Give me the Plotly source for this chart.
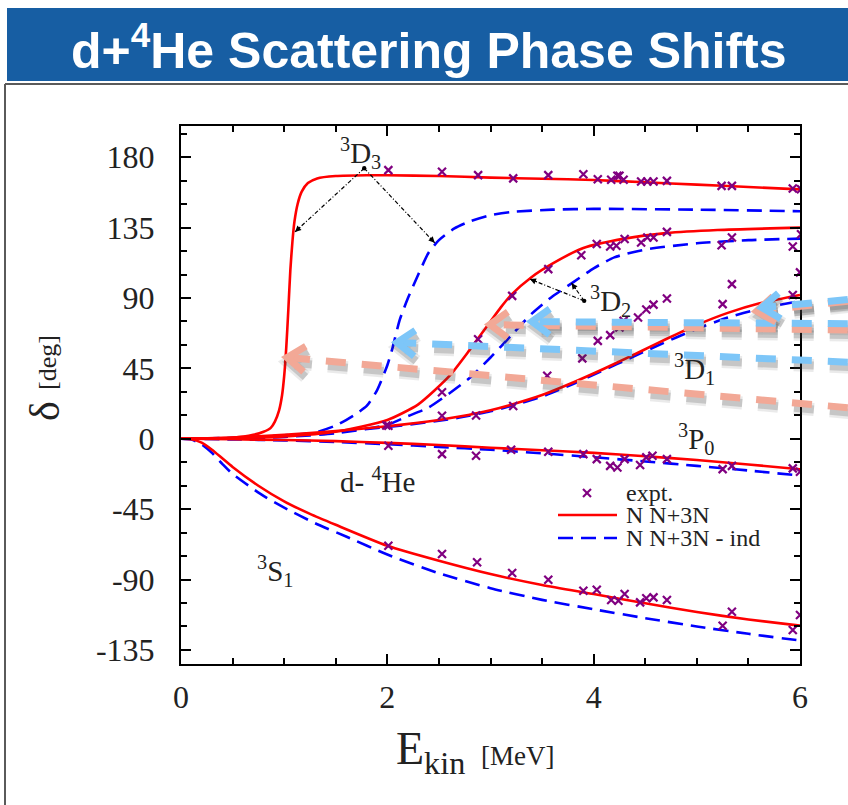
import math
import plotly.graph_objects as go

# ---------------- data: phase shifts (deg) vs E_kin (MeV) ----------------
# NN+3N (solid) and NN+3N-induced (dashed) calculations, one pair per channel
E_3D3_full = [0, 0.3, 0.5, 0.7, 0.8, 0.87, 0.91, 0.95, 0.98, 1.0, 1.02, 1.04, 1.06, 1.08, 1.1,
              1.13, 1.17, 1.23, 1.32, 1.5, 1.8, 2.0, 2.5, 3.0, 3.5, 4.0, 4.5, 5.0, 5.5, 6.0]
d_3D3_full = [0, 0.2, 0.6, 2.5, 4.5, 7, 11, 18, 28, 40, 58, 82, 108, 126, 139,
              150, 158, 163.5, 166.5, 168, 168.5, 168.5, 168, 167, 166.3, 165.5, 164, 162.5, 161, 159.5]
E_3D3_ind = [0, 0.5, 1.0, 1.3, 1.5, 1.6, 1.7, 1.8, 1.9, 2.0, 2.05, 2.12, 2.2, 2.3, 2.4, 2.5,
             2.65, 2.8, 3.0, 3.2, 3.6, 4.0, 5.0, 6.0]
d_3D3_ind = [0, 0.3, 1.5, 4, 8.5, 12, 16, 21, 31, 47, 58, 76, 90, 105, 119, 127,
             134.5, 139, 143, 145, 146.5, 147, 146.5, 145.5]

E_3D2_full = [0, 0.5, 1.0, 1.5, 2.0, 2.3, 2.6, 2.8, 2.9, 3.0, 3.1, 3.2, 3.4, 3.6, 3.9, 4.3, 4.7, 5.2, 6.0]
d_3D2_full = [0, 0.5, 1.5, 4.5, 12, 22, 40, 57, 66, 75, 84, 92, 103.5, 112, 122, 128, 131.5, 133.5, 135]
E_3D2_ind = [0, 0.5, 1.0, 1.5, 2.0, 2.2, 2.4, 2.6, 2.8, 3.0, 3.2, 3.4, 3.6, 3.8, 4.0, 4.2, 4.5, 5.0, 5.5, 6.0]
d_3D2_ind = [0, 0.3, 1.2, 3.5, 9, 14.5, 20, 29, 39, 52, 66, 80, 91, 100, 109, 116, 121, 125, 127, 128]

E_3D1 = [0, 0.5, 1.0, 1.5, 2.0, 2.5, 2.7, 3.0, 3.2, 3.5, 3.8, 4.1, 4.35, 4.6, 4.8, 5.0, 5.3, 5.6, 6.0]
d_3D1_full = [0, 0.8, 2.5, 5, 8, 12, 14.2, 18.3, 21.8, 28, 36, 44.8, 52.5, 60.5, 66.8, 72.8, 80.5, 86.5, 92]
d_3D1_ind = [0, 0.6, 2.2, 4.5, 7.5, 11.5, 13.6, 17.6, 21, 27, 35, 44, 51.5, 59, 64.8, 70.3, 77.5, 83, 88]

E_3P0 = [0, 0.5, 1.0, 1.5, 2.0, 2.5, 3.0, 3.5, 4.0, 4.5, 5.0, 5.5, 6.0]
d_3P0_full = [0, -0.3, -0.8, -1.5, -2.6, -4, -5.7, -7.3, -9, -11.2, -13.6, -16.4, -19.5]
d_3P0_ind = [0, -0.4, -1.0, -2.0, -3.5, -5.2, -7.0, -9.3, -11.8, -14.5, -17.3, -20.3, -23.5]

E_3S1_full = [0, 0.1, 0.2, 0.3, 0.4, 0.5, 0.75, 1.0, 1.25, 1.5, 2.0, 2.5, 3.0, 3.5, 4.0, 4.5, 5.0, 5.5, 6.0]
d_3S1_full = [0, -0.3, -2.5, -7, -12.5, -18, -30, -40, -48, -55, -68.4, -78, -86.5, -93.5, -99.3,
              -105.2, -110.8, -115.5, -119.5]
E_3S1_ind = [0, 0.1, 0.2, 0.3, 0.4, 0.5, 0.8, 1.0, 1.3, 1.6, 2.0, 2.5, 3.0, 3.5, 4.0, 4.5, 5.0, 5.5, 6.0]
d_3S1_ind = [0, -0.5, -3.5, -9, -16, -22.5, -36.5, -44, -54, -62.5, -74, -86, -95.5, -103, -109,
             -114.7, -120, -124.7, -129]

# experimental phase shifts
E_exp_3D3 = [2.01, 2.53, 2.88, 3.22, 3.56, 3.90, 4.04, 4.17, 4.23, 4.25, 4.29, 4.46, 4.52, 4.58, 4.71, 5.24, 5.34, 5.93, 6.01]
d_exp_3D3 = [171.8, 170.7, 168.6, 166.5, 168.6, 169.2, 166.0, 165.6, 168.2, 168.2, 165.6, 164.5, 164.5, 164.5, 164.9, 161.7, 161.7, 160.0, 159.6]
E_exp_3D2 = [1.99, 2.53, 2.88, 3.21, 3.56, 3.88, 4.03, 4.16, 4.22, 4.30, 4.46, 4.52, 4.58, 4.71, 5.24, 5.34, 5.93, 6.01]
d_exp_3D2 = [8.5, 29.7, 63.7, 91.4, 108.5, 117.4, 124.5, 123, 123.4, 127.7, 125.5, 128.7, 128.7, 132.3, 123.8, 128.7, 123, 130.8]
E_exp_3D1 = [2.01, 2.53, 2.86, 3.22, 3.55, 3.89, 4.04, 4.16, 4.25, 4.29, 4.43, 4.51, 4.58, 4.71, 5.25, 5.34, 5.93, 6.0]
d_exp_3D1 = [8.3, 14.7, 14.9, 21, 40.3, 51.4, 62.6, 66.3, 71.2, 75.4, 77.6, 82.7, 85.8, 89.7, 86.1, 98.9, 92, 106.4]
E_exp_3P0 = [2.01, 2.53, 2.86, 3.2, 3.56, 3.9, 4.03, 4.16, 4.23, 4.30, 4.45, 4.51, 4.57, 4.71, 5.25, 5.34, 5.93, 6.0]
d_exp_3P0 = [-4.5, -9.8, -10.9, -7, -8.3, -9.8, -13, -17.3, -18.3, -13, -16.8, -11.9, -10.9, -13, -19.4, -17.3, -18.9, -21.1]
E_exp_3S1 = [2.01, 2.53, 2.87, 3.21, 3.56, 3.9, 4.03, 4.17, 4.24, 4.30, 4.45, 4.51, 4.58, 4.71, 5.25, 5.34, 5.93, 6.0]
d_exp_3S1 = [-68.4, -73.7, -79, -85.8, -90.1, -97.2, -96.5, -103.1, -103.5, -99.3, -104.6, -102, -101.4, -103.1, -119.5, -110.6, -122.3, -112.7]

X_TICKS = [0, 2, 4, 6]
Y_TICKS = [-135, -90, -45, 0, 45, 90, 135, 180]

# ---------------- page geometry ----------------
W, H = 848, 805
ML, MR, MT, MB = 181, 48, 126, 141
PW, PH = W - ML - MR, H - MT - MB
X_RANGE = [0, 6]
Y_RANGE = [-144, 200]

RED = "#ff0000"
BLUE = "#0000ff"
PURPLE = "#800080"
SALMON = "rgb(242,168,150)"
SKY = "rgb(125,198,248)"
SERIF = "Liberation Serif"
TXT = "#222222"


def to_paper(e, d):
    return ((e - X_RANGE[0]) / (X_RANGE[1] - X_RANGE[0]),
            (d - Y_RANGE[0]) / (Y_RANGE[1] - Y_RANGE[0]))


def page_to_paper(x, y):
    return (x - ML) / PW, (H - MB - y) / PH


fig = go.Figure()

curve_pairs = [
    (E_3D3_full, d_3D3_full, E_3D3_ind, d_3D3_ind),
    (E_3D2_full, d_3D2_full, E_3D2_ind, d_3D2_ind),
    (E_3D1, d_3D1_full, E_3D1, d_3D1_ind),
    (E_3P0, d_3P0_full, E_3P0, d_3P0_ind),
    (E_3S1_full, d_3S1_full, E_3S1_ind, d_3S1_ind),
]
for ef, df, ei, di in curve_pairs:
    fig.add_trace(go.Scatter(x=ei, y=di, mode="lines", showlegend=False,
                             line=dict(color=BLUE, width=2.6, dash="15px,8px",
                                       shape="spline", smoothing=0.6)))
for ef, df, ei, di in curve_pairs:
    fig.add_trace(go.Scatter(x=ef, y=df, mode="lines", showlegend=False,
                             line=dict(color=RED, width=2.6, shape="spline", smoothing=0.6)))

exp_x = E_exp_3D3 + E_exp_3D2 + E_exp_3D1 + E_exp_3P0 + E_exp_3S1
exp_y = d_exp_3D3 + d_exp_3D2 + d_exp_3D1 + d_exp_3P0 + d_exp_3S1
fig.add_trace(go.Scatter(x=exp_x, y=exp_y, mode="markers", showlegend=False,
                         marker=dict(symbol="x-thin", size=8, color=PURPLE,
                                     line=dict(color=PURPLE, width=2.2))))

shapes = []
annotations = []

# ---------------- header bar and panel frame ----------------
x0, y0 = page_to_paper(7, 81)
x1, y1 = page_to_paper(848, 8)
shapes.append(dict(type="rect", xref="paper", yref="paper", x0=x0, y0=y0, x1=x1, y1=y1,
                   fillcolor="#175ea3", line=dict(width=0), layer="below"))
for (ax0, ay0, ax1, ay1) in [(5, 84, 5, 805), (5, 84, 848, 84)]:
    p0 = page_to_paper(ax0, ay0)
    p1 = page_to_paper(ax1, ay1)
    shapes.append(dict(type="line", xref="paper", yref="paper", x0=p0[0], y0=p0[1],
                       x1=p1[0], y1=p1[1], line=dict(color="#5a5a5a", width=2)))
tx, ty = page_to_paper(429, 47)
annotations.append(dict(xref="paper", yref="paper", x=tx, y=ty, showarrow=False,
                        text="d+<sup>4</sup>He Scattering Phase Shifts",
                        font=dict(family="Liberation Sans", size=50, color="white", weight="bold"),
                        xanchor="center", yanchor="middle"))

# ---------------- highlighted (shadowed) arrows ----------------
color_arrows = [
    ((1.027, 52.0), (6.463, 19.9), SALMON),
    ((2.093, 61.6), (6.463, 49.0), SKY),
    ((2.994, 73.0), (6.463, 69.5), SALMON),
    ((3.401, 74.9), (6.463, 73.6), SKY),
    ((5.581, 81.6), (6.463, 88.0), SALMON),
    ((5.630, 83.9), (6.463, 89.0), SKY),
]


def arrow_shapes(tip, tail, color, width, dx=0.0, dy=0.0, opacity=1.0):
    tpx, tpy = to_paper(*tip)
    spx, spy = to_paper(*tail)
    tpx += dx / PW
    spx += dx / PW
    tpy -= dy / PH
    spy -= dy / PH
    vx, vy = (spx - tpx) * PW, (spy - tpy) * PH
    n = math.hypot(vx, vy)
    ux, uy = vx / n, vy / n
    arms = []
    for s in (1, -1):
        a = s * math.radians(36)
        rx = ux * math.cos(a) - uy * math.sin(a)
        ry = ux * math.sin(a) + uy * math.cos(a)
        arms.append((tpx + rx * 22 / PW, tpy + ry * 22 / PH))
    out = [dict(type="line", xref="paper", yref="paper", x0=spx, y0=spy, x1=tpx + ux * 6 / PW,
                y1=tpy + uy * 6 / PH, opacity=opacity,
                line=dict(color=color, width=width, dash="20px,16px")),
           dict(type="path", xref="paper", yref="paper", opacity=opacity,
                path=f"M {arms[0][0]},{arms[0][1]} L {tpx},{tpy} L {arms[1][0]},{arms[1][1]}",
                line=dict(color=color, width=width))]
    return out


for tip, tail, col in color_arrows:
    shapes += arrow_shapes(tip, tail, "rgb(60,60,60)", 13, dx=2, dy=5, opacity=0.10)
    shapes += arrow_shapes(tip, tail, "rgb(60,60,60)", 8, dx=2, dy=5, opacity=0.20)
for tip, tail, col in color_arrows:
    shapes += arrow_shapes(tip, tail, col, 7)

# ---------------- dotted pointer arrows ----------------
pointer_groups = [
    ((1.776, 173.0), [(1.105, 132.3), (2.459, 125.3)]),
    ((3.908, 88.2), [(3.382, 102.1), (3.786, 99.5)]),
]
PXE = PW / (X_RANGE[1] - X_RANGE[0])
PXD = PH / (Y_RANGE[1] - Y_RANGE[0])
for (e0, d0), tips in pointer_groups:
    shapes.append(dict(type="circle", xref="x", yref="y", xsizemode="pixel", ysizemode="pixel",
                       xanchor=e0, yanchor=d0, x0=-2.2, x1=2.2, y0=-2.2, y1=2.2,
                       fillcolor="black", line=dict(width=0)))
    for e1, d1 in tips:
        shapes.append(dict(type="line", xref="x", yref="y", x0=e0, y0=d0, x1=e1, y1=d1,
                           line=dict(color="black", width=1.2, dash="4px,2px,1px,2px")))
        vx, vy = (e1 - e0) * PXE, -(d1 - d0) * PXD
        n = math.hypot(vx, vy)
        annotations.append(dict(x=e1, y=d1, xref="x", yref="y", text="", showarrow=True,
                                arrowhead=2, arrowsize=1.1, arrowwidth=1.1, arrowcolor="black",
                                ax=-vx / n * 9, ay=-vy / n * 9, standoff=0))

# ---------------- channel labels ----------------
channel_labels = [
    ("<sup>3</sup>D<sub>3</sub>", 360, 153),
    ("<sup>3</sup>D<sub>2</sub>", 610, 301),
    ("<sup>3</sup>D<sub>1</sub>", 694, 369),
    ("<sup>3</sup>P<sub>0</sub>", 696, 439),
    ("d- <sup>4</sup>He", 377, 480),
    ("<sup>3</sup>S<sub>1</sub>", 275, 571),
]
for txt, px_, py_ in channel_labels:
    ax_, ay_ = page_to_paper(px_, py_)
    annotations.append(dict(xref="paper", yref="paper", x=ax_, y=ay_, text=txt, showarrow=False,
                            font=dict(family=SERIF, size=29, color=TXT),
                            xanchor="center", yanchor="middle"))

# ---------------- legend ----------------
mx, my = 587, 493
for (a, b, c, d) in [(-4, -4, 4, 4), (-4, 4, 4, -4)]:
    p0 = page_to_paper(mx + a, my + b)
    p1 = page_to_paper(mx + c, my + d)
    shapes.append(dict(type="line", xref="paper", yref="paper", x0=p0[0], y0=p0[1],
                       x1=p1[0], y1=p1[1], line=dict(color=PURPLE, width=2.2)))
for yy, col, dash in [(515, RED, "solid"), (538, BLUE, "15px,8px")]:
    p0 = page_to_paper(558, yy)
    p1 = page_to_paper(617, yy)
    shapes.append(dict(type="line", xref="paper", yref="paper", x0=p0[0], y0=p0[1],
                       x1=p1[0], y1=p1[1], line=dict(color=col, width=2.6, dash=dash)))
for txt, yy in [("expt.", 493), ("N N+3N", 515), ("N N+3N - ind", 538)]:
    ax_, ay_ = page_to_paper(624, yy)
    annotations.append(dict(xref="paper", yref="paper", x=ax_, y=ay_, text=txt, showarrow=False,
                            font=dict(family=SERIF, size=24, color=TXT),
                            xanchor="left", yanchor="middle"))

# ---------------- axis titles ----------------
for txt, px_, py_, size in [("E<sub>kin</sub>", 430, 752, 46), ("[MeV]", 517, 756, 27)]:
    ax_, ay_ = page_to_paper(px_, py_)
    annotations.append(dict(xref="paper", yref="paper", x=ax_, y=ay_, text=txt, showarrow=False,
                            font=dict(family=SERIF, size=size, color=TXT),
                            xanchor="center", yanchor="middle"))
for txt, px_, py_, size in [("δ", 45, 411, 42), ("[deg]", 47, 363, 26)]:
    ax_, ay_ = page_to_paper(px_, py_)
    annotations.append(dict(xref="paper", yref="paper", x=ax_, y=ay_, text=txt, showarrow=False,
                            textangle=-90, font=dict(family=SERIF, size=size, color=TXT),
                            xanchor="center", yanchor="middle"))

axis_common = dict(showline=True, linecolor="black", linewidth=2, mirror="allticks",
                   ticks="inside", ticklen=10, tickwidth=1.5, tickcolor="black",
                   showgrid=False, zeroline=False,
                   tickfont=dict(family=SERIF, size=32, color=TXT))

fig.update_layout(
    width=W, height=H, autosize=False,
    margin=dict(l=ML, r=MR, t=MT, b=MB, pad=0),
    paper_bgcolor="white", plot_bgcolor="white",
    showlegend=False,
    xaxis=dict(range=X_RANGE, tickmode="array", tickvals=X_TICKS,
               ticktext=[str(v) for v in X_TICKS], ticklabelstandoff=4,
               minor=dict(dtick=0.5, tick0=0, ticks="inside", ticklen=6, tickwidth=1.5,
                          tickcolor="black", showgrid=False),
               **axis_common),
    yaxis=dict(range=Y_RANGE, tickmode="array", tickvals=Y_TICKS,
               ticktext=[str(v) for v in Y_TICKS], ticklabelstandoff=18,
               minor=dict(dtick=15, tick0=0, ticks="inside", ticklen=6, tickwidth=1.5,
                          tickcolor="black", showgrid=False),
               **axis_common),
    shapes=shapes,
    annotations=annotations,
)

fig.write_html("out.html")
